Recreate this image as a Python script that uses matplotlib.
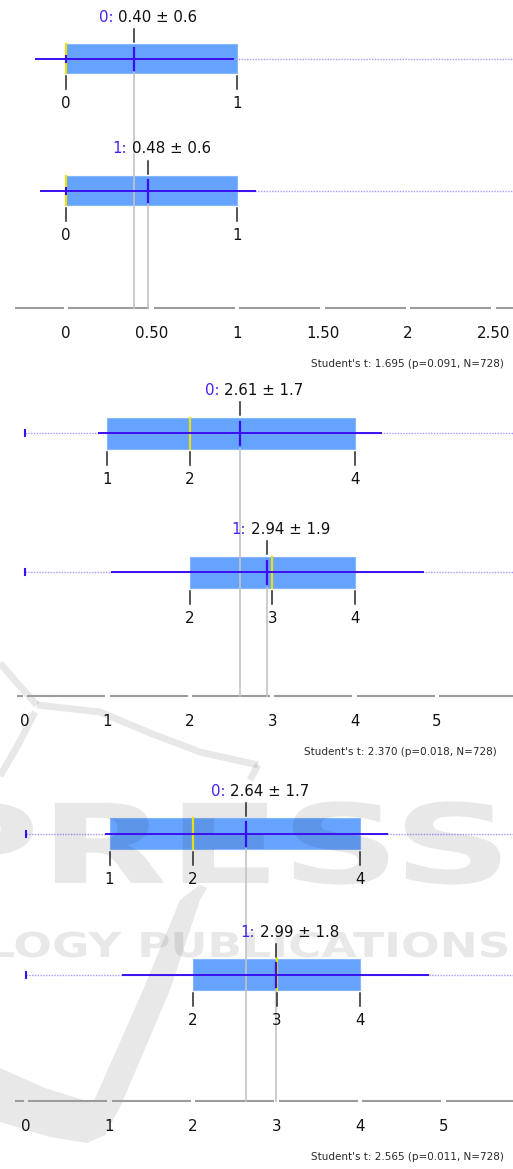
import matplotlib
matplotlib.use("Agg")
import matplotlib.pyplot as plt
from matplotlib import transforms
from matplotlib.textpath import TextPath
from matplotlib.patches import PathPatch, Rectangle, Polygon
from matplotlib.font_manager import FontProperties

plt.rcParams['font.family'] = ['DejaVu Sans']

W, H, DPI = 513, 1169, 100

# ---------------- data ----------------
group_names = ["0", "1"]
mean_g0 = [0.40, 2.61, 2.64]
sd_g0 = [0.58, 1.72, 1.69]
sd_label_g0 = ["0.6", "1.7", "1.7"]
mean_g1 = [0.48, 2.94, 2.99]
sd_g1 = [0.63, 1.90, 1.84]
sd_label_g1 = ["0.6", "1.9", "1.8"]
q1_g0 = [0, 1, 1]
median_g0 = [0, 2, 2]
q3_g0 = [1, 4, 4]
q1_g1 = [0, 2, 2]
median_g1 = [0, 3, 3]
q3_g1 = [1, 4, 4]
min_g0 = [0, 0, 0]
min_g1 = [0, 0, 0]
axis_ticks = [[0, 0.5, 1, 1.5, 2, 2.5], [0, 1, 2, 3, 4, 5], [0, 1, 2, 3, 4, 5]]
axis_tick_labels = [["0", "0.50", "1", "1.50", "2", "2.50"],
                    ["0", "1", "2", "3", "4", "5"],
                    ["0", "1", "2", "3", "4", "5"]]
t_stat = ["1.695", "2.370", "2.565"]
p_value = ["0.091", "0.018", "0.011"]
n_obs = [728, 728, 728]

# ---------------- layout (pixels) ----------------
panel_px = [(0, 378), (378, 768), (768, 1169)]
px_zero = [66, 25, 26]
px_unit = [171, 82.4, 83.5]
axis_start = [-0.3, -0.1, -0.13]
box_top = [[44.3, 176], [417.7, 556.7], [818.3, 959.3]]
box_h = [29, 31, 31]
axis_y = [308, 695.7, 1100.7]
stat_right_px = [504, 497, 504]

BOX = "#66a3ff"
BOX_EDGE = "#86b6ff"
LINE = "#3a0ff0"
DOT = "#a698ff"
YELLOW = "#e8e010"
PREFIX = "#4a1ff5"
TICK = "#262626"
GRAY = "#c3c3c3"
AXIS = "#9c9c9c"
TXT = "#111111"
FS = 10.8

fig = plt.figure(figsize=(W / DPI, H / DPI), dpi=DPI)
fig_px = transforms.Affine2D().scale(1.0 / W, -1.0 / H).translate(0, 1) + fig.transFigure


def fmt(v):
    return str(int(v)) if float(v).is_integer() else f"{v:g}"


axes = []
for i in range(3):
    top, bot = panel_px[i]
    ax = fig.add_axes([0, 1 - bot / H, 1, (bot - top) / H])
    ax.set_xlim(-px_zero[i] / px_unit[i], (W - px_zero[i]) / px_unit[i])
    ax.set_ylim(bot, top)
    ax.axis('off')
    axes.append(ax)
    xr = ax.get_xlim()[1]

    groups = [
        (mean_g0[i], sd_g0[i], sd_label_g0[i], q1_g0[i], median_g0[i], q3_g0[i], min_g0[i]),
        (mean_g1[i], sd_g1[i], sd_label_g1[i], q1_g1[i], median_g1[i], q3_g1[i], min_g1[i]),
    ]
    for g, (m, s, sl, q1, med, q3, mn) in enumerate(groups):
        yt = box_top[i][g]
        yb = yt + box_h[i]
        yc = (yt + yb) / 2
        ax.add_patch(Rectangle((q1, yt), q3 - q1, box_h[i], facecolor=BOX,
                               edgecolor=BOX_EDGE, lw=0.8, zorder=2))
        ax.plot([mn, xr], [yc, yc], color=DOT, lw=1.0, ls=(0, (1, 1)), zorder=2.2,
                clip_on=False)
        ax.plot([mn, mn], [yc - 3, yc + 3], color=LINE, lw=1.5, zorder=4)
        ax.plot([med, med], [yt, yb], color=YELLOW, lw=1.6, zorder=3)
        ax.plot([m, m], [yb, axis_y[i]], color=GRAY, lw=1.2, zorder=3.5)
        ax.plot([m - s, m + s], [yc, yc], color=LINE, lw=1.4, zorder=4,
                solid_capstyle='butt')
        ax.plot([m, m], [yt + 4, yb - 3.5], color=LINE, lw=1.6, zorder=4.5)
        # mean tick and label
        ax.plot([m, m], [yt - 15.5, yt - 2.5], color=TICK, lw=1.1, zorder=4)
        tr_val = transforms.offset_copy(ax.transData, fig=fig, x=-16, y=0, units='dots')
        tr_pre = transforms.offset_copy(ax.transData, fig=fig, x=-21, y=0, units='dots')
        ax.text(m, yt - 22.7, f"{m:.2f} \u00b1 {sl}", transform=tr_val, ha='left',
                va='baseline', fontsize=FS, color=TXT, zorder=6)
        ax.text(m, yt - 22.7, f"{group_names[g]}:", transform=tr_pre, ha='right',
                va='baseline', fontsize=FS, color=PREFIX, zorder=6)
        # quartile ticks and labels
        for v in sorted(set([q1, med, q3])):
            ax.plot([v, v], [yb + 3, yb + 16], color=TICK, lw=1.1, zorder=4)
            ax.text(v, yb + 35, fmt(v), ha='center', va='baseline', fontsize=FS,
                    color=TXT, zorder=6)

    # axis line with gaps at ticks
    gap = 2.2 / px_unit[i]
    ticks = [t for t in axis_ticks[i] if t <= xr]
    pts = [axis_start[i]] + ticks + [xr]
    for k in range(len(pts) - 1):
        a, b = pts[k], pts[k + 1]
        a2 = a + gap if k > 0 else a
        b2 = b - gap if k + 1 < len(pts) - 1 else b
        ax.plot([a2, b2], [axis_y[i], axis_y[i]], color=AXIS, lw=1.5, zorder=3,
                solid_capstyle='butt', clip_on=False)
    for t, lab in zip(axis_ticks[i], axis_tick_labels[i]):
        if t <= xr:
            ax.text(t, axis_y[i] + 30, lab, ha='center', va='baseline', fontsize=FS,
                    color=TXT, zorder=6)
    ax.text(stat_right_px[i] / W, axis_y[i] + 59,
            f"Student's t: {t_stat[i]} (p={p_value[i]}, N={n_obs[i]})",
            transform=transforms.blended_transform_factory(ax.transAxes, ax.transData),
            ha='right', va='baseline', fontsize=7.5, color="#2a2a2a", zorder=6)

# ---------------- faint publisher watermark ----------------
WM = (0, 0, 0, 0.09)
bold = FontProperties(family="DejaVu Sans", weight="bold")


def wm_text(ax, s, x0, base, sx, sy):
    tp = TextPath((0, 0), s, size=1, prop=bold)
    tr = transforms.Affine2D().scale(sx, -sy).translate(x0, base) + fig_px
    ax.add_patch(PathPatch(tp, transform=tr, facecolor=WM, edgecolor='none',
                           zorder=2.5, clip_on=False))


wm_text(axes[2], "PRESS", -82, 883, 166, 110)
wm_text(axes[2], "LOGY PUBLICATIONS", -14, 957, 45.5, 34.3)

# swoosh of the logo (thin "Y" in panel 2)
for xs, ys in [([0, 18, 37], [663, 684, 705]),
               ([35, 18, 0], [712, 745, 776]),
               ([37, 100, 150, 200, 258], [705, 712, 733, 752, 765]),
               ([258, 250], [765, 780])]:
    axes[1].plot(xs, ys, color=WM, lw=5.0, transform=fig_px, zorder=2.5,
                 clip_on=False, solid_capstyle='butt', solid_joinstyle='round')
# check-mark shape in panel 3
check = [(0, 1068), (45, 1088), (93, 1103), (143, 990), (180, 900), (200, 885),
         (207, 888), (200, 900), (170, 990), (122, 1103), (105, 1135), (87, 1143),
         (50, 1137), (0, 1122)]
axes[2].add_patch(Polygon(check, closed=True, facecolor=WM, edgecolor='none',
                          transform=fig_px, zorder=2.5, clip_on=False))

fig.savefig("out.png", dpi=DPI)
